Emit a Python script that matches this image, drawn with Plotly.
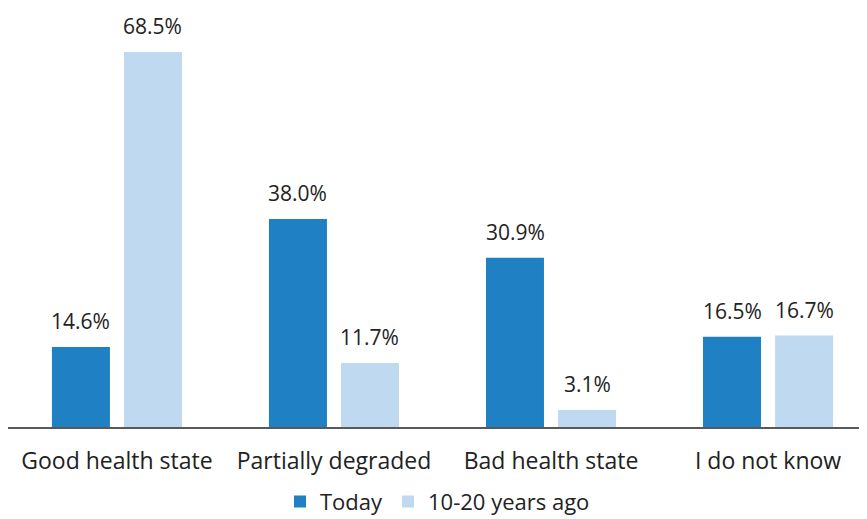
import plotly.graph_objects as go

categories = ["Good health state", "Partially degraded", "Bad health state", "I do not know"]
today = [14.6, 38.0, 30.9, 16.5]
past = [68.5, 11.7, 3.1, 16.7]
series_names = ["Today", "10-20 years ago"]

dark = "#1F80C4"
light = "#BFDAF0"
text_color = "#222222"
font_family = "Open Sans, Lato, sans-serif"

fig = go.Figure()
fig.add_trace(go.Bar(x=categories, y=today, name=series_names[0], marker=dict(color=dark, line=dict(width=0))))
fig.add_trace(go.Bar(x=categories, y=past, name=series_names[1], marker=dict(color=light, line=dict(width=0))))

annotations = []
for vals, shift in ((today, -36), (past, 36)):
    for c, v in zip(categories, vals):
        annotations.append(dict(x=c, y=v, xref="x", yref="y", text=f"{v:.1f}%",
                                showarrow=False, xshift=shift, yshift=10, yanchor="bottom",
                                font=dict(size=21, color=text_color, family=font_family)))

# page body has an 8px margin, so the figure is sized to fill the rest of the window
fig.update_layout(
    width=859, height=511,
    margin=dict(l=0, r=0, t=12, b=92, autoexpand=False),
    paper_bgcolor="white", plot_bgcolor="white",
    barmode="group", bargap=0.336, bargroupgap=0.195,
    font=dict(family=font_family, size=23, color=text_color),
    annotations=annotations,
    showlegend=True,
    legend=dict(orientation="h", x=0.5, xanchor="center", xref="container",
                y=0.034, yanchor="middle", yref="container",
                font=dict(size=22, color=text_color), itemwidth=30,
                traceorder="normal"),
    xaxis=dict(range=[-0.502, 3.456], showline=True, linecolor="#595959", linewidth=2,
               showgrid=False, ticks="", ticklabelstandoff=12,
               tickfont=dict(size=23, color=text_color, family=font_family)),
    yaxis=dict(range=[0, 74.35], visible=False, showgrid=False, zeroline=False),
)

fig.write_html("out.html")
